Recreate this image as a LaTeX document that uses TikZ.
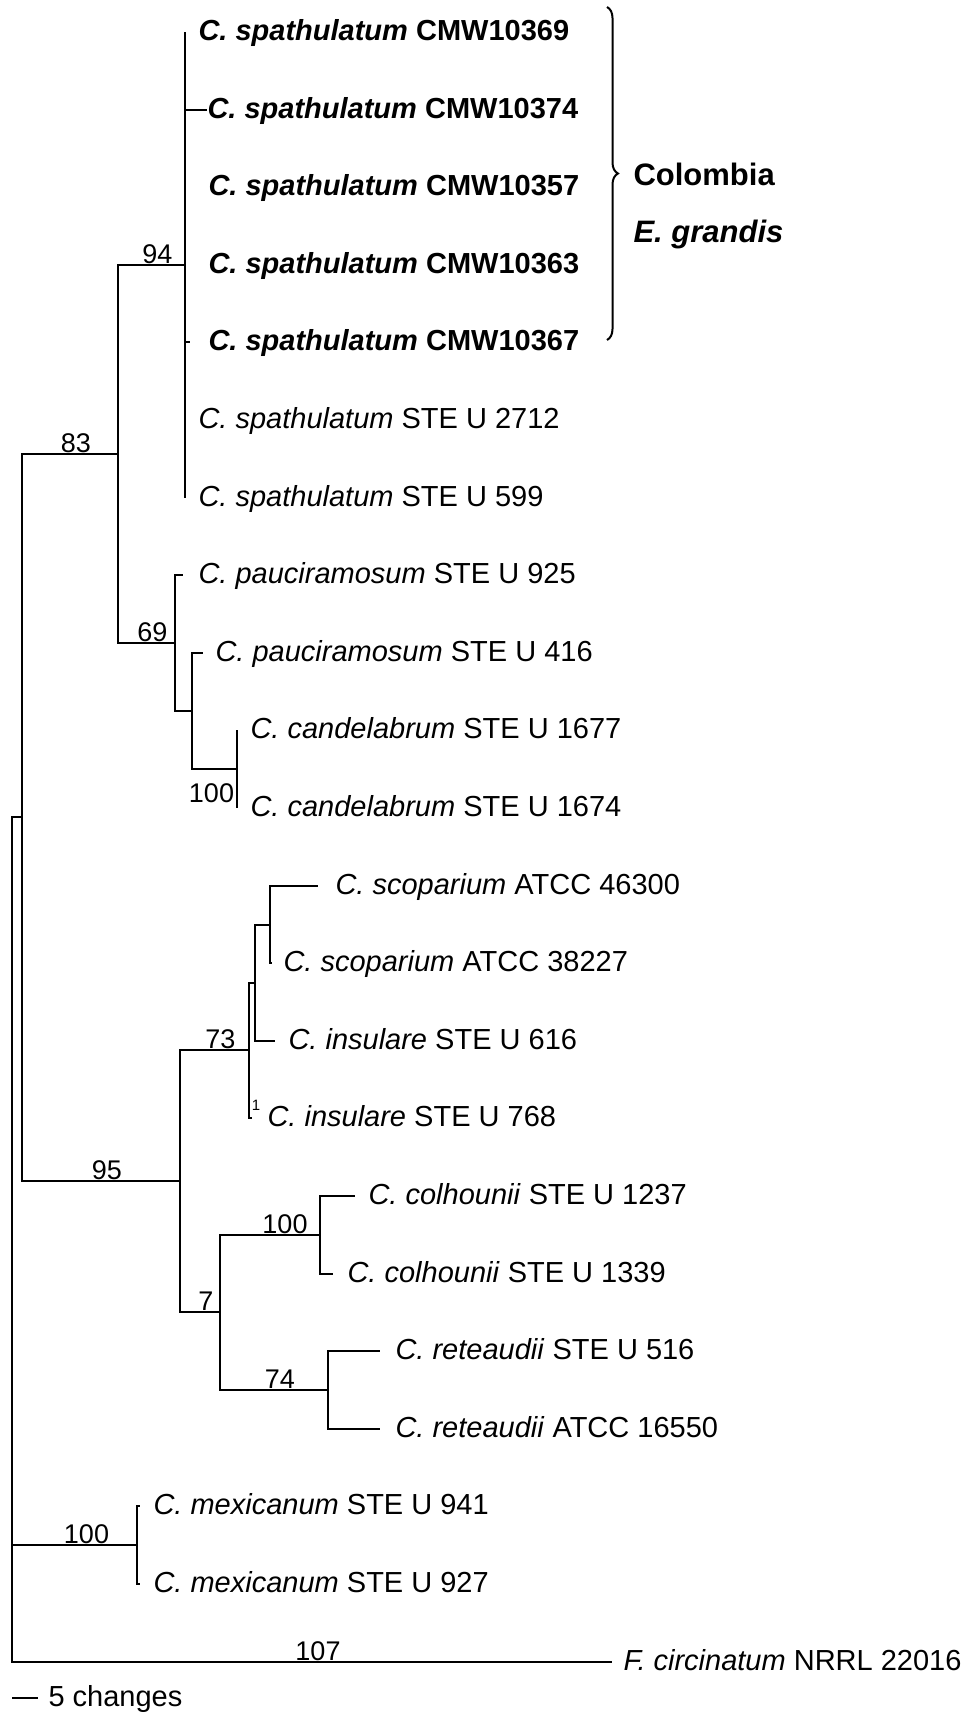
\documentclass[tikz,border=0pt]{standalone}
\usepackage{fontspec}
\setmainfont{Liberation Sans}
\usetikzlibrary{decorations.pathreplacing}
\usetikzlibrary{positioning}

\begin{document}
\begin{tikzpicture}[x=1pt, y=-1pt, line width=1.1pt,
	leaf/.style={inner sep=0pt, text height=20pt, text depth=4pt, font=\fontsize{29}{34}\selectfont},
	bs/.style={above, inner sep=0.5pt, xshift=6pt, font=\fontsize{27}{32}\selectfont}]
		\useasboundingbox (0,0) rectangle (973,1716);

		%inner nodes
		\coordinate (root) at (12,1240);
		\coordinate (nA) at (22,817);
		\coordinate (n83) at (118,454);
		\coordinate (n94) at (185,265);
		\coordinate (n69) at (175,643);
		\coordinate (nP) at (192,711);
		\coordinate (n100c) at (237,769);
		\coordinate (n95) at (180,1181);
		\coordinate (n73) at (249,1050);
		\coordinate (nI) at (255,983);
		\coordinate (nS) at (270,925);
		\coordinate (n7) at (220,1312);
		\coordinate (n100h) at (320,1235);
		\coordinate (n74) at (328,1390);
		\coordinate (nM) at (137,1545);

		%tips
		\coordinate (t1) at (185,32);
		\coordinate (t2) at (207,110);
		\coordinate (t3) at (185,187);
		\coordinate (t4) at (185,265);
		\coordinate (t5) at (190,342);
		\coordinate (t6) at (185,420);
		\coordinate (t7) at (185,498);
		\coordinate (t8) at (183,575);
		\coordinate (t9) at (203,653);
		\coordinate (t10) at (237,730);
		\coordinate (t11) at (237,808);
		\coordinate (t12) at (318,886);
		\coordinate (t13) at (272,963);
		\coordinate (t14) at (275,1041);
		\coordinate (t15) at (252,1118);
		\coordinate (t16) at (355,1196);
		\coordinate (t17) at (333,1274);
		\coordinate (t18) at (380,1351);
		\coordinate (t19) at (380,1429);
		\coordinate (t20) at (140,1506);
		\coordinate (t21) at (140,1584);
		\coordinate (tF) at (612,1662);

		%draw branches
		\draw (root) |- (nA);
		\draw (root) |- (nM) node[bs, pos=0.75, xshift=6pt] {100};
		\draw (root) |- (tF);
		\draw[line width=1.8pt] (root |- tF) -- (tF) node[bs, pos=0.5] {107};
		\draw (nA) |- (n83) node[bs, pos=0.75] {83};
		\draw (nA) |- (n95) node[bs, pos=0.75] {95};
		\draw (n83) |- (n94) node[bs, pos=0.75] {94};
		\draw (n83) |- (n69) node[bs, pos=0.75] {69};
		\foreach \i in {1,...,7}
		\draw (n94) |- (t\i);
		\draw (n69) |- (t8);
		\draw (n69) |- (nP);
		\draw (nP) |- (t9);
		\draw (nP) |- (n100c) node[bs, pos=0.75, below=14pt, xshift=-9pt] {100};
		\draw (n100c) |- (t10);
		\draw (n100c) |- (t11);
		\draw (n95) |- (n73) node[bs, pos=0.75] {73};
		\draw (n95) |- (n7) node[bs, pos=0.75] {7};
		\draw (n73) |- (nI);
		\draw (n73) |- (t15);
		\draw (nI) |- (nS);
		\draw (nI) |- (t14);
		\draw (nS) |- (t12);
		\draw (nS) |- (t13);
		\draw (n7) |- (n100h) node[bs, pos=0.75, xshift=9pt] {100};
		\draw (n7) |- (n74) node[bs, pos=0.75] {74};
		\draw (n100h) |- (t16);
		\draw (n100h) |- (t17);
		\draw (n74) |- (t18);
		\draw (n74) |- (t19);
		\draw (nM) |- (t20);
		\draw (nM) |- (t21);

		%strain names
		\foreach \i/\s/\d in {1/10369/13pt, 2/10374/0pt, 3/10357/23pt, 4/10363/23pt, 5/10367/18pt}
		\node[leaf, font=\fontsize{29}{34}\selectfont\bfseries, right=\d of t\i] (l\i) {\textit{C. spathulatum} CMW\s};
		\node[leaf, right=13pt of t6] (l6) {\textit{C. spathulatum} STE U 2712};
		\node[leaf, right=13pt of t7] (l7) {\textit{C. spathulatum} STE U 599};
		\node[leaf, right=15pt of t8] (l8) {\textit{C. pauciramosum} STE U 925};
		\node[leaf, right=12pt of t9] (l9) {\textit{C. pauciramosum} STE U 416};
		\node[leaf, right=13pt of t10] (l10) {\textit{C. candelabrum} STE U 1677};
		\node[leaf, right=13pt of t11] (l11) {\textit{C. candelabrum} STE U 1674};
		\node[leaf, right=17pt of t12] (l12) {\textit{C. scoparium} ATCC 46300};
		\node[leaf, right=11pt of t13] (l13) {\textit{C. scoparium} ATCC 38227};
		\node[leaf, right=13pt of t14] (l14) {\textit{C. insulare} STE U 616};
		\node[leaf, right=15pt of t15] (l15) {\textit{C. insulare} STE U 768};
		\node[leaf, right=13pt of t16] (l16) {\textit{C. colhounii} STE U 1237};
		\node[leaf, right=14pt of t17] (l17) {\textit{C. colhounii} STE U 1339};
		\node[leaf, right=15pt of t18] (l18) {\textit{C. reteaudii} STE U 516};
		\node[leaf, right=15pt of t19] (l19) {\textit{C. reteaudii} ATCC 16550};
		\node[leaf, right=13pt of t20] (l20) {\textit{C. mexicanum} STE U 941};
		\node[leaf, right=13pt of t21] (l21) {\textit{C. mexicanum} STE U 927};
		\node[leaf, right=11pt of tF] (lF) {\textit{F. circinatum} NRRL 22016};
		\node[inner sep=0pt, font=\fontsize{15}{18}\selectfont] (s768) at (256,1105) {1};

		%brace & origin
		\coordinate (br1) at (607,7);
		\coordinate (br2) at (607,340);
		\draw[decorate, decoration={brace, amplitude=11pt}, line width=2pt] (br1) -- (br2);
		\node[anchor=base west, inner sep=0pt, font=\fontsize{31}{36}\selectfont\bfseries] (col) at (633,185) {Colombia};
		\node[anchor=base west, inner sep=0pt, font=\fontsize{31}{36}\selectfont\bfseries\itshape] (egr) at (633,242) {E. grandis};

		%scale bar
		\coordinate (sb1) at (12,1698);
		\coordinate (sb2) at (38,1698);
		\draw (sb1) -- (sb2);
		\node[leaf, right=10pt of sb2] (sbl) {5 changes};
	\end{tikzpicture}
\end{document}
